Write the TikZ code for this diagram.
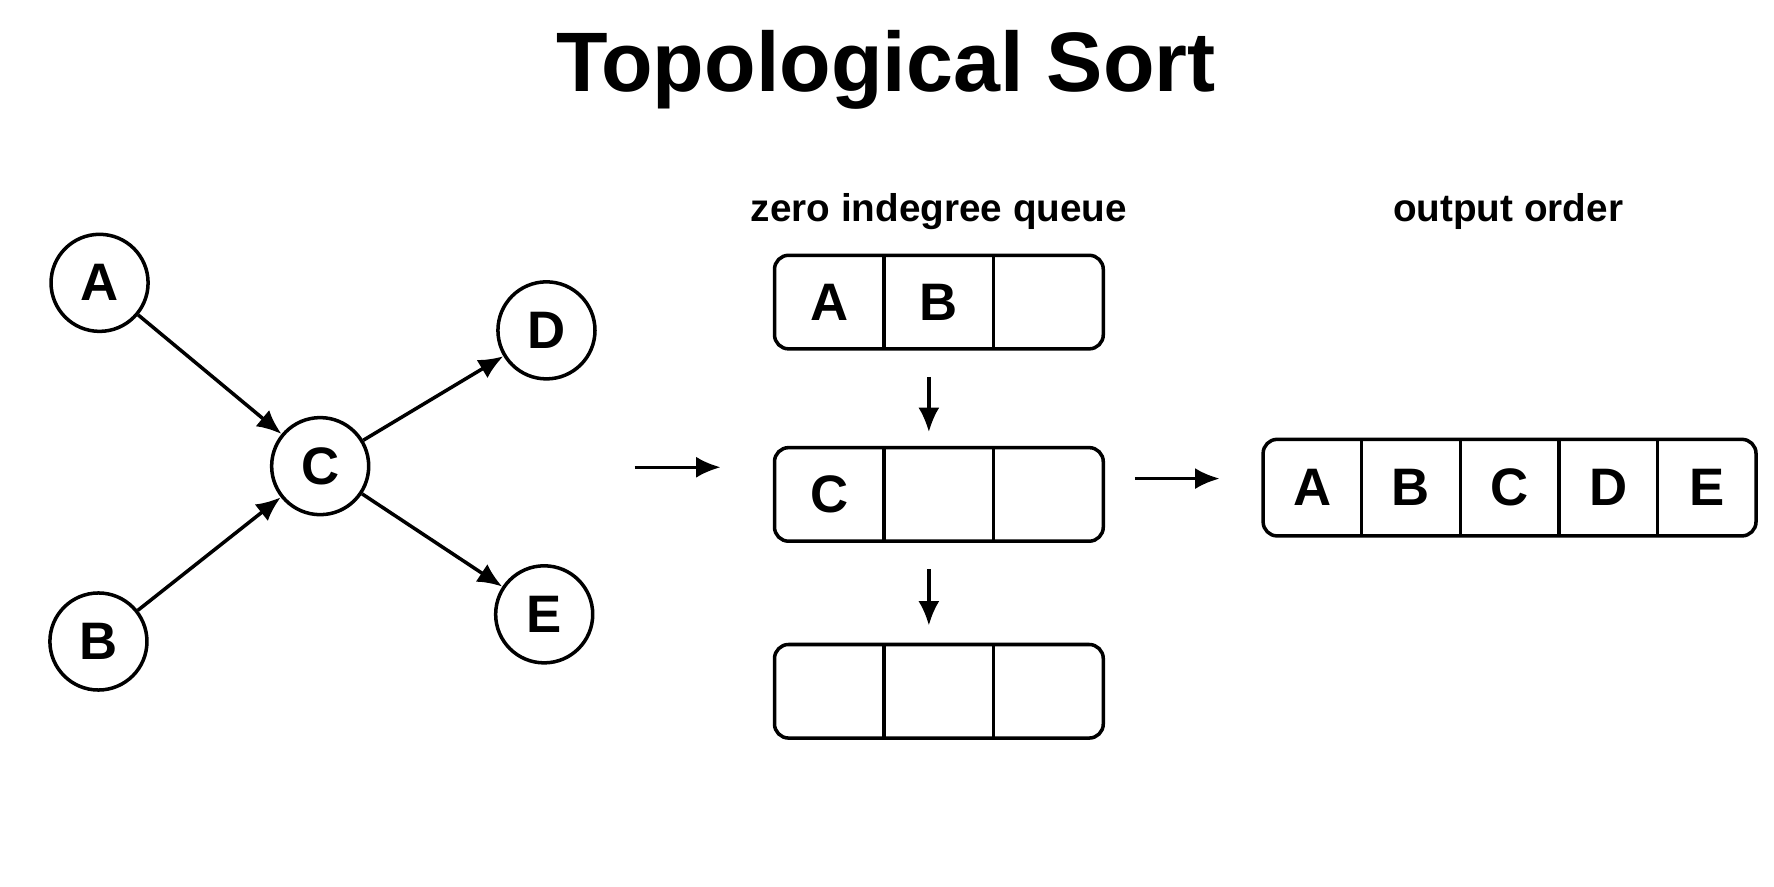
\documentclass[tikz,border=0pt]{standalone}
\usepackage{fontspec}
\setmainfont{Liberation Sans}
\usetikzlibrary{arrows.meta,positioning,fit}

\begin{document}
\begin{tikzpicture}[x=0.01131cm, y=-0.01131cm, line width=1pt,
    vertex/.style={draw, circle, minimum size=0.97cm, inner sep=0pt, font=\fontsize{15}{15}\selectfont\bfseries},
    cell/.style={minimum width=1.06cm, minimum height=0.9cm, inner sep=0pt, font=\fontsize{15}{15}\selectfont\bfseries},
    ocell/.style={cell, minimum width=0.95cm, minimum height=0.93cm},
    frame/.style={draw, rounded corners=4pt, inner sep=0pt},
    arr/.style={-{Latex[length=7pt,width=6pt]}},
    label/.style={font=\fontsize{11}{11}\selectfont\bfseries}]
    \useasboundingbox (0,0) rectangle (1568,784);

    % Title
    \node[font=\fontsize{24}{24}\selectfont\bfseries] (title) at (783,62) {Topological Sort};

    % Graph
    \node[vertex] (A) at (88,250) {A};
    \node[vertex] (B) at (87,567) {B};
    \node[vertex] (C) at (283,412) {C};
    \node[vertex] (D) at (483,292) {D};
    \node[vertex] (E) at (481,543) {E};
    \draw[arr] (A) -- (C);
    \draw[arr] (B) -- (C);
    \draw[arr] (C) -- (D);
    \draw[arr] (C) -- (E);

    % Queue states
    \node[label] (qlabel) at (830,187) {zero indegree queue};
    \foreach \q/\y/\a/\b in {1/267/A/B, 2/437/C/, 3/611//} {
        \node[cell] (q\q a) at (733,\y) {\a};
        \node[cell, right=0pt of q\q a] (q\q b) {\b};
        \node[cell, right=0pt of q\q b] (q\q c) {};
        \node[frame, fit=(q\q a)(q\q c)] (q\q) {};
        \draw (q\q a.north east) -- (q\q a.south east);
        \draw (q\q b.north east) -- (q\q b.south east);
    }
    \coordinate (d1s) at (821,333);
    \coordinate (d1e) at (821,382);
    \coordinate (d2s) at (821,503);
    \coordinate (d2e) at (821,553);
    \draw[arr] (d1s) -- (d1e);
    \draw[arr] (d2s) -- (d2e);

    % Flow arrows
    \coordinate (g1) at (561,413);
    \coordinate (g2) at (637,413);
    \draw[arr] (g1) -- (g2);
    \coordinate (h1) at (1003,423);
    \coordinate (h2) at (1078,423);
    \draw[arr] (h1) -- (h2);

    % Output
    \node[label] (olabel) at (1333,187) {output order};
    \node[ocell] (o1) at (1160,431) {A};
    \foreach \l [count=\i from 2, remember=\i as \j (initially 1)] in {B,C,D,E} {
        \node[ocell, right=0pt of o\j] (o\i) {\l};
    }
    \node[frame, fit=(o1)(o5)] (out) {};
    \foreach \i in {1,...,4} {
        \draw (o\i.north east) -- (o\i.south east);
    }
\end{tikzpicture}
\end{document}
